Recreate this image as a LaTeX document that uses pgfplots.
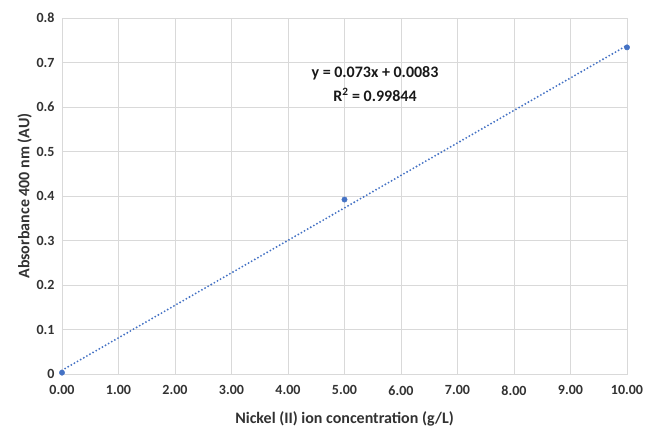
\documentclass[border=0pt]{standalone}
\usepackage{pgfplots}
\pgfplotsset{compat=1.18}
\usepackage{fontspec}
\setmainfont{Carlito}
\definecolor{xlblue}{RGB}{68,114,196}
\definecolor{gridgray}{RGB}{217,217,217}
\definecolor{txtgray}{RGB}{50,50,50}
\begin{document}
\begin{tikzpicture}
\begin{axis}[
  scale only axis, width=565bp, height=356bp,
  xmin=0, xmax=10, ymin=0, ymax=0.8,
  xtick={0,1,...,10}, ytick={0,0.1,...,0.8},
  grid=major, major grid style={gridgray, line width=0.8pt},
  axis line style={gridgray, line width=0.8pt},
  tick style={draw=none},
  /pgf/number format/assume math mode=true,
  xticklabel style={yshift=-8bp, /pgf/number format/.cd, fixed, fixed zerofill, precision=2},
  yticklabel style={xshift=-4bp, /pgf/number format/.cd, fixed, precision=1},
  ticklabel style={font=\fontsize{14bp}{16bp}\selectfont\bfseries, text=txtgray},
  label style={font=\fontsize{16bp}{18bp}\selectfont\bfseries, text=txtgray},
  xlabel={Nickel (II) ion concentration (g/L)},
  ylabel={Absorbance 400 nm (AU)},
  xlabel style={yshift=-10bp},
  ylabel style={yshift=-2bp},
  clip=false,
]
\addplot[xlblue, line width=2.1pt, line cap=round, dash pattern=on 0pt off 3.6pt] coordinates {(0,0.0083) (10,0.7383)};
\addplot[only marks, mark=*, mark size=2.7pt, xlblue] coordinates {(0,0.003) (5,0.392) (10,0.734)};
\node[align=center, font=\fontsize{16bp}{24bp}\selectfont\bfseries, text=black!90] at (axis cs:5.54,0.652)
  {y = 0.073x + 0.0083\\R\textsuperscript{2} = 0.99844};
\end{axis}
\pgfresetboundingbox
\path ([shift={(-62bp,-58bp)}]current axis.south west) rectangle ([shift={(19bp,18bp)}]current axis.north east);
\end{tikzpicture}
\end{document}
